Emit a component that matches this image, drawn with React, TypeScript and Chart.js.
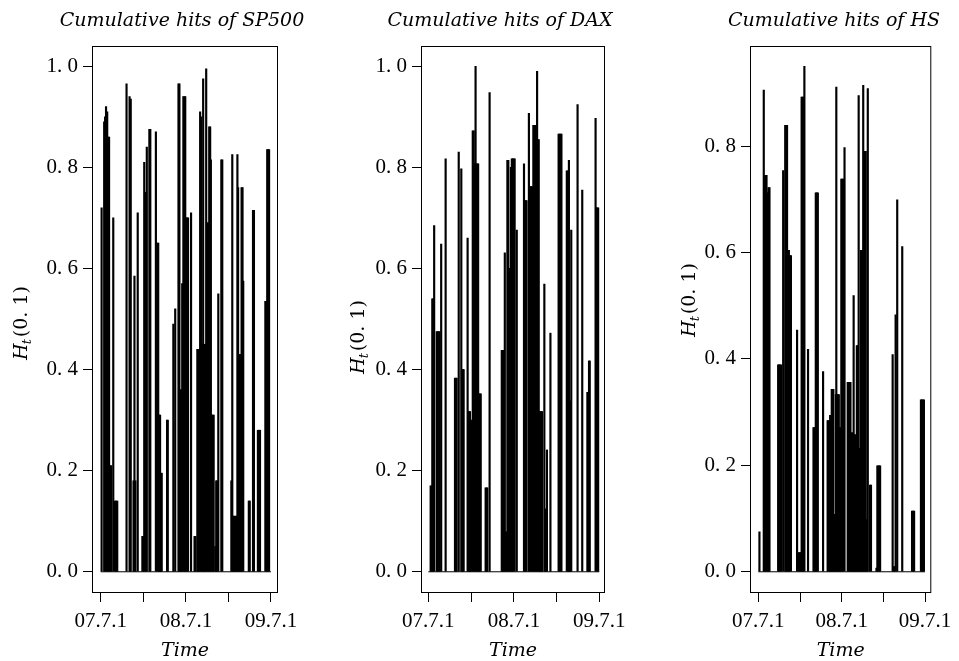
import React, { useEffect, useRef } from 'react';
import { Chart, registerables } from 'chart.js';

Chart.register(...registerables);

// ---- data (days since 2007-07-01, cumulative hit values) ----
const tickDays = [0, 184, 366, 550, 731];
const tickLabels = ['07.7.1', '', '08.7.1', '', '09.7.1'];
const baseDays = [0, 731];
const yTicksA = [0, 0.2, 0.4, 0.6, 0.8, 1.0];
const yTicksB = [0, 0.2, 0.4, 0.6, 0.8];

const spDays = [4, 15, 19, 23, 28, 32, 36, 40, 45, 54, 61, 66, 71, 111, 124, 129, 141, 145, 149, 159, 179, 183, 187, 191, 195, 198, 209, 213, 237, 243, 247, 251, 255, 258, 262, 285, 288, 312, 320, 334, 338, 342, 346, 350, 355, 359, 363, 367, 371, 375, 388, 403, 407, 415, 419, 423, 427, 431, 436, 440, 444, 448, 453, 458, 462, 466, 470, 473, 477, 481, 485, 492, 496, 500, 505, 518, 522, 561, 565, 568, 572, 576, 580, 584, 587, 590, 594, 598, 602, 605, 609, 612, 636, 640, 654, 658, 675, 679, 684, 707, 711, 715, 719, 723];
const spVals = [0.72, 0.89, 0.90, 0.92, 0.91, 0.86, 0.86, 0.21, 0.21, 0.70, 0.14, 0.14, 0.14, 0.965, 0.94, 0.935, 0.18, 0.585, 0.18, 0.71, 0.07, 0.07, 0.81, 0.75, 0.75, 0.84, 0.875, 0.875, 0.87, 0.65, 0.65, 0.31, 0.31, 0.195, 0.195, 0.30, 0.30, 0.49, 0.52, 0.965, 0.965, 0.36, 0.36, 0.57, 0.94, 0.94, 0.94, 0.70, 0.70, 0.70, 0.71, 0.07, 0.07, 0.44, 0.44, 0.44, 0.91, 0.90, 0.45, 0.975, 0.45, 0.45, 0.995, 0.69, 0.69, 0.88, 0.88, 0.815, 0.31, 0.31, 0.31, 0.05, 0.18, 0.18, 0.55, 0.815, 0.815, 0.18, 0.825, 0.11, 0.11, 0.11, 0.11, 0.11, 0.825, 0.76, 0.42, 0.43, 0.43, 0.76, 0.76, 0.575, 0.14, 0.14, 0.715, 0.715, 0.28, 0.28, 0.28, 0.535, 0.535, 0.835, 0.835, 0.835];

const daxDays = [10, 14, 17, 21, 25, 36, 40, 44, 48, 55, 74, 114, 118, 121, 130, 141, 144, 148, 151, 168, 171, 175, 178, 181, 185, 190, 194, 197, 202, 205, 209, 213, 216, 220, 224, 245, 249, 252, 262, 314, 318, 321, 327, 330, 334, 338, 342, 345, 349, 353, 357, 361, 365, 369, 378, 409, 412, 416, 420, 430, 433, 437, 441, 445, 449, 453, 457, 460, 465, 468, 472, 475, 479, 483, 486, 496, 499, 503, 507, 522, 557, 561, 565, 569, 592, 596, 599, 601, 604, 607, 611, 638, 658, 680, 684, 687, 690, 715, 718, 722, 726];
const daxVals = [0.17, 0.17, 0.54, 0.54, 0.685, 0.475, 0.475, 0.475, 0.475, 0.648, 0.817, 0.383, 0.383, 0.383, 0.83, 0.797, 0.40, 0.40, 0.40, 0.66, 0.317, 0.317, 0.317, 0.30, 0.30, 0.872, 0.872, 0.807, 1.0, 0.807, 0.807, 0.807, 0.352, 0.352, 0.352, 0.166, 0.166, 0.166, 0.948, 0.438, 0.438, 0.438, 0.631, 0.079, 0.079, 0.814, 0.814, 0.60, 0.60, 0.80, 0.817, 0.817, 0.817, 0.817, 0.676, 0.807, 0.734, 0.734, 0.734, 0.907, 0.762, 0.762, 0.762, 0.762, 0.883, 0.883, 0.883, 0.855, 0.99, 0.855, 0.855, 0.317, 0.317, 0.317, 0.317, 0.569, 0.124, 0.124, 0.241, 0.472, 0.866, 0.866, 0.866, 0.866, 0.793, 0.793, 0.338, 0.814, 0.338, 0.338, 0.676, 0.924, 0.755, 0.355, 0.355, 0.417, 0.417, 0.897, 0.72, 0.72, 0.72];

const hsDays = [5, 24, 27, 31, 36, 39, 43, 45, 49, 87, 91, 95, 100, 109, 118, 122, 126, 130, 134, 138, 143, 170, 178, 182, 187, 190, 194, 197, 202, 218, 242, 246, 250, 252, 256, 261, 284, 304, 308, 313, 315, 320, 322, 326, 329, 332, 336, 340, 342, 345, 349, 353, 357, 361, 364, 368, 371, 378, 392, 396, 400, 404, 406, 410, 414, 418, 420, 424, 427, 430, 432, 436, 440, 444, 447, 450, 454, 457, 460, 463, 467, 471, 474, 477, 480, 490, 494, 518, 522, 526, 530, 534, 589, 594, 598, 602, 609, 631, 674, 678, 683, 713, 717, 721, 726];
const hsVals = [0.075, 0.905, 0.745, 0.745, 0.745, 0.712, 0.712, 0.722, 0.722, 0.389, 0.389, 0.389, 0.389, 0.754, 0.839, 0.839, 0.839, 0.604, 0.604, 0.594, 0.594, 0.454, 0.036, 0.036, 0.036, 0.892, 0.892, 0.892, 0.95, 0.418, 0.271, 0.271, 0.271, 0.712, 0.712, 0.712, 0.376, 0.284, 0.284, 0.284, 0.294, 0.294, 0.343, 0.343, 0.343, 0.108, 0.108, 0.333, 0.911, 0.333, 0.333, 0.333, 0.271, 0.271, 0.738, 0.738, 0.738, 0.797, 0.356, 0.356, 0.356, 0.356, 0.261, 0.261, 0.261, 0.519, 0.258, 0.258, 0.167, 0.167, 0.425, 0.425, 0.895, 0.232, 0.232, 0.604, 0.604, 0.604, 0.914, 0.79, 0.79, 0.79, 0.098, 0.098, 0.908, 0.163, 0.163, 0.007, 0.199, 0.199, 0.199, 0.199, 0.408, 0.01, 0.01, 0.483, 0.699, 0.611, 0.114, 0.114, 0.114, 0.323, 0.323, 0.323, 0.323];

// ---- layout ----
const W = 959;
const H = 661;
const BOX_TOP = 46;
const BOX_BOTTOM = 592;
const TICK_FAMILY = '"Liberation Serif", "Times New Roman", serif';
const TEXT_FAMILY = '"DejaVu Serif", serif';

type PanelCfg = {
  title: string;
  days: number[];
  vals: number[];
  yTicks: number[];
  yMin: number;
  yMax: number;
  xMin: number;
  xMax: number;
  left: number;
  width: number;
  boxLeft: number;
  boxRight: number;
  titleX: number;
  ylabX: number;
  ylabY: number;
};

const panels: PanelCfg[] = [
  { title: 'Cumulative hits of SP500', days: spDays, vals: spVals, yTicks: yTicksA, yMin: -0.04, yMax: 1.04, xMin: -33, xMax: 757, left: 0, width: 320, boxLeft: 93, boxRight: 277, titleX: 182, ylabX: 20, ylabY: 323 },
  { title: 'Cumulative hits of DAX', days: daxDays, vals: daxVals, yTicks: yTicksA, yMin: -0.04, yMax: 1.04, xMin: -27, xMax: 751, left: 320, width: 320, boxLeft: 102, boxRight: 284, titleX: 500, ylabX: 357, ylabY: 337 },
  { title: 'Cumulative hits of HS', days: hsDays, vals: hsVals, yTicks: yTicksB, yMin: -0.038, yMax: 0.988, xMin: -32, xMax: 754, left: 640, width: 319, boxLeft: 111, boxRight: 295, titleX: 834, ylabX: 688, ylabY: 300 },
];

function fmtY(v: number): string {
  const s = v.toFixed(1);
  return s.replace('.', '. ');
}

function Panel({ cfg }: { cfg: PanelCfg }) {
  const ref = useRef<HTMLCanvasElement>(null);
  useEffect(() => {
    const canvas = ref.current!;
    const textPlugin = {
      id: 'frameText',
      afterDraw(chart: any) {
        const { ctx, chartArea: a } = chart;
        ctx.save();
        ctx.strokeStyle = '#000';
        ctx.lineWidth = 1;
        ctx.strokeRect(a.left - 0.5, a.top + 0.5, a.right - a.left + 1, a.bottom - a.top);
        ctx.fillStyle = '#000';
        ctx.textBaseline = 'alphabetic';
        ctx.textAlign = 'center';
        ctx.font = `italic 19px ${TEXT_FAMILY}`;
        ctx.fillText(cfg.title, cfg.titleX - cfg.left, 26);
        ctx.fillText('Time', (a.left + a.right) / 2, 656);
        // y label  H_t(0. 1)
        const fH = `italic 19px ${TEXT_FAMILY}`;
        const fT = `italic 13px ${TEXT_FAMILY}`;
        const fP = `19px ${TEXT_FAMILY}`;
        ctx.font = fH;
        const wH = ctx.measureText('H').width;
        ctx.font = fT;
        const wT = ctx.measureText('t').width;
        ctx.font = fP;
        const wP = ctx.measureText('(0. 1)').width;
        const total = wH + wT + 1 + wP;
        ctx.translate(cfg.ylabX - cfg.left, cfg.ylabY);
        ctx.rotate(-Math.PI / 2);
        ctx.textAlign = 'left';
        let x = -total / 2;
        ctx.font = fH;
        ctx.fillText('H', x, 7);
        x += wH;
        ctx.font = fT;
        ctx.fillText('t', x - 1, 11);
        x += wT + 1;
        ctx.font = fP;
        ctx.fillText('(0. 1)', x, 7);
        ctx.restore();
      },
    };

    const chart = new Chart(canvas, {
      type: 'bar',
      data: {
        datasets: [
          {
            type: 'bar',
            data: cfg.days.map((d, i) => ({ x: d, y: cfg.vals[i] })),
            backgroundColor: '#000',
            borderWidth: 0,
            barThickness: 1.5,
            grouped: false,
          } as any,
          {
            type: 'line',
            data: baseDays.map((d) => ({ x: d, y: 0 })),
            borderColor: '#000',
            borderWidth: 1,
            pointRadius: 0,
          } as any,
        ],
      },
      options: {
        responsive: false,
        animation: false,
        devicePixelRatio: 1,
        layout: { padding: { left: 0, top: BOX_TOP, right: cfg.width - cfg.boxRight, bottom: 0 } },
        plugins: { legend: { display: false }, tooltip: { enabled: false }, title: { display: false } },
        scales: {
          x: {
            type: 'linear',
            min: cfg.xMin,
            max: cfg.xMax,
            offset: false,
            afterFit: (s: any) => { s.height = H - BOX_BOTTOM; },
            afterBuildTicks: (s: any) => { s.ticks = tickDays.map((v) => ({ value: v })); },
            ticks: {
              callback: (_v: any, i: number) => tickLabels[i],
              autoSkip: false,
              maxRotation: 0,
              minRotation: 0,
              color: '#000',
              padding: 7,
              font: { family: TICK_FAMILY, size: 21 },
            },
            grid: { drawOnChartArea: false, offset: false, tickLength: 10, color: '#000', lineWidth: 1 },
            border: { display: false },
          },
          y: {
            type: 'linear',
            min: cfg.yMin,
            max: cfg.yMax,
            afterFit: (s: any) => { s.width = cfg.boxLeft; },
            afterBuildTicks: (s: any) => { s.ticks = cfg.yTicks.map((v) => ({ value: v })); },
            ticks: {
              callback: (v: any) => fmtY(Number(v)),
              color: '#000',
              padding: 5,
              font: { family: TICK_FAMILY, size: 21 },
            },
            grid: { drawOnChartArea: false, tickLength: 10, color: '#000', lineWidth: 1 },
            border: { display: false },
          },
        },
      } as any,
      plugins: [textPlugin],
    });
    return () => chart.destroy();
  }, [cfg]);
  return (
    <canvas
      ref={ref}
      width={cfg.width}
      height={H}
      style={{ position: 'absolute', left: cfg.left, top: 0, width: cfg.width, height: H }}
    />
  );
}

export default function App() {
  return (
    <div style={{ position: 'fixed', left: 0, top: 0, width: W, height: H, background: '#fff', overflow: 'hidden' }}>
      {panels.map((p) => (
        <Panel key={p.title} cfg={p} />
      ))}
    </div>
  );
}
